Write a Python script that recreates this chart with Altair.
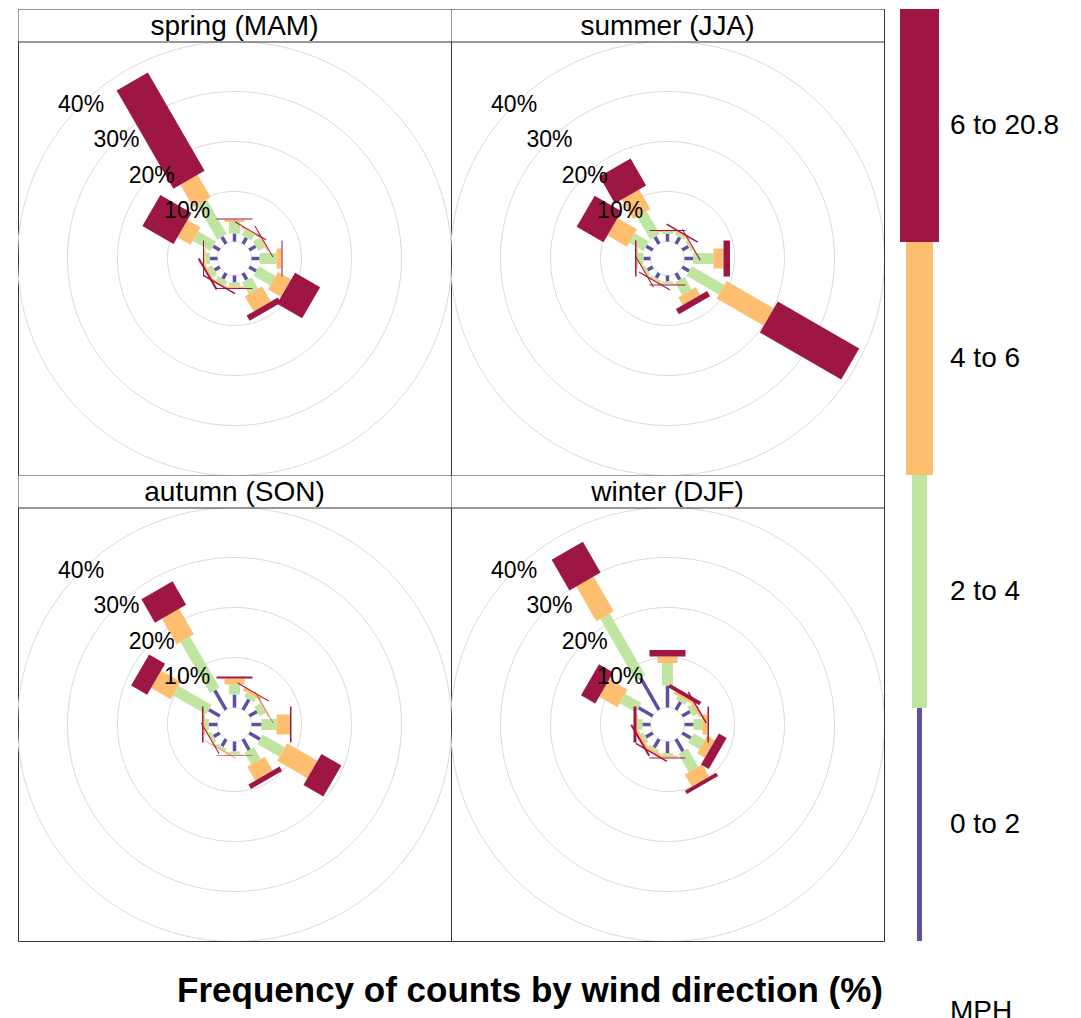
import altair as alt
import numpy as np
import pandas as pd

# ---------------- data ----------------
DIRECTIONS = [0, 30, 60, 90, 120, 150, 180, 210, 240, 270, 300, 330]
SPEED_BINS = ["0 to 2", "2 to 4", "4 to 6", "6 to 20.8"]
SEASONS = ["spring (MAM)", "summer (JJA)", "autumn (SON)", "winter (DJF)"]
GRID_PCT = [10, 20, 30, 40]
GRID_LABELS = ["10%", "20%", "30%", "40%"]
TITLE = "Frequency of counts by wind direction (%)"
KEY_FOOTER = "MPH"

# frequency (%) of each speed interval, by direction (0, 30, ..., 330)
spring_0to2 = [1.6, 1.4, 1.5, 1.6, 1.6, 1.5, 1.4, 1.3, 1.2, 1.5, 1.5, 1.6]
spring_2to4 = [2.3, 1.2, 1.5, 3.4, 3.9, 2.7, 0.8, 0.9, 1.1, 0.9, 4.1, 8.0]
spring_4to6 = [0.5, 0.3, 0.3, 1.0, 3.0, 3.5, 0.3, 0.3, 0.3, 0.3, 3.0, 5.2]
spring_6up = [0.2, 0.2, 0.2, 0.2, 5.8, 1.2, 0.2, 0.3, 0.4, 0.2, 7.2, 22.7]

summer_0to2 = [1.5, 1.5, 1.4, 1.7, 1.6, 1.5, 1.2, 1.1, 1.2, 1.4, 1.5, 1.6]
summer_2to4 = [0.4, 0.5, 0.4, 4.1, 7.5, 2.9, 0.4, 0.4, 0.4, 1.1, 3.3, 5.3]
summer_4to6 = [0.2, 0.3, 0.2, 2.0, 10.9, 1.8, 0.2, 0.2, 0.2, 0.3, 4.5, 4.5]
summer_6up = [0.2, 0.3, 0.2, 1.3, 18.8, 1.2, 0.2, 0.2, 0.2, 0.3, 6.2, 6.2]

autumn_0to2 = [2.6, 2.4, 1.8, 2.0, 2.5, 2.5, 2.0, 1.6, 1.4, 1.7, 2.5, 4.5]
autumn_2to4 = [2.0, 1.0, 1.4, 3.0, 5.1, 2.7, 0.6, 0.5, 0.5, 0.8, 7.7, 11.8]
autumn_4to6 = [1.2, 0.6, 0.2, 2.7, 7.0, 3.2, 0.2, 0.2, 0.2, 0.3, 4.5, 5.9]
autumn_6up = [0.4, 0.2, 0.1, 0.3, 4.6, 1.0, 0.1, 0.1, 0.2, 0.3, 3.7, 5.4]

winter_0to2 = [4.4, 1.8, 1.8, 1.8, 2.0, 2.8, 2.3, 1.9, 1.6, 1.6, 3.3, 7.4]
winter_2to4 = [4.5, 0.8, 1.0, 1.8, 2.6, 4.2, 0.5, 0.5, 0.6, 0.9, 3.7, 14.2]
winter_4to6 = [1.3, 0.5, 0.5, 1.0, 1.8, 2.8, 0.4, 0.5, 0.5, 0.3, 4.2, 8.0]
winter_6up = [1.3, 0.8, 0.3, 0.3, 1.8, 0.8, 0.2, 0.3, 0.4, 0.6, 3.3, 7.1]

# ---------------- styling ----------------
FONT = "Liberation Sans"
COLORS = ["#5E4FA2", "#BFE5A0", "#FDBE6F", "#9E1642"]
PADDLE_PX = [3.5, 11, 20, 36]      # paddle widths in the roses
KEY_PX = [5, 15, 27, 39]           # paddle widths in the key
HOLE = 3.4                         # centre offset, in % units
HALF = 43.3                        # half extent of each panel, in % units
PANEL = 433
HEADER = 33
PX_PER_UNIT = PANEL / (2 * HALF)
KEY_W = 55
KEY_CX = 35.5

# ---------------- tables ----------------
season_bins = {
    SEASONS[0]: [spring_0to2, spring_2to4, spring_4to6, spring_6up],
    SEASONS[1]: [summer_0to2, summer_2to4, summer_4to6, summer_6up],
    SEASONS[2]: [autumn_0to2, autumn_2to4, autumn_4to6, autumn_6up],
    SEASONS[3]: [winter_0to2, winter_2to4, winter_4to6, winter_6up],
}
rows = []
for season, arrays in season_bins.items():
    for k, wd in enumerate(DIRECTIONS):
        cum = 0.0
        for b, name in enumerate(SPEED_BINS):
            f = arrays[b][k]
            rows.append(dict(season=season, wd=wd, bin=name, c0=cum, c1=cum + f))
            cum += f
bars = pd.DataFrame(rows)
rad = np.deg2rad(bars["wd"])
bars["x0"] = (HOLE + bars["c0"]) * np.sin(rad)
bars["y0"] = (HOLE + bars["c0"]) * np.cos(rad)
bars["x1"] = (HOLE + bars["c1"]) * np.sin(rad)
bars["y1"] = (HOLE + bars["c1"]) * np.cos(rad)

circ_rows = []
for g in [0] + GRID_PCT:
    for k, t in enumerate(np.arange(0, 361, 2)):
        circ_rows.append(dict(ring=g, k=k, x=(HOLE + g) * np.sin(np.deg2rad(t)),
                              y=(HOLE + g) * np.cos(np.deg2rad(t))))
circles = pd.DataFrame(circ_rows)

lab = pd.DataFrame({"pct": GRID_PCT, "label": GRID_LABELS})
lab["x"] = (HOLE + lab["pct"]) * np.sin(np.deg2rad(315))
lab["y"] = (HOLE + lab["pct"]) * np.cos(np.deg2rad(315))

XS = alt.Scale(domain=[-HALF, HALF], nice=False, zero=False)
YS = alt.Scale(domain=[-HALF, HALF + HEADER / PX_PER_UNIT], nice=False, zero=False)


def panel(season, extra=None):
    ring = alt.Chart(circles).mark_line(color="#D9D9D9", strokeWidth=1, clip=True).encode(
        x=alt.X("x:Q", scale=XS, axis=None),
        y=alt.Y("y:Q", scale=YS, axis=None),
        detail="ring:N",
        order="k:Q",
    )
    sd = bars[bars["season"] == season]
    layers = [ring]
    for name, col, w in zip(SPEED_BINS, COLORS, PADDLE_PX):
        layers.append(
            alt.Chart(sd[sd["bin"] == name]).mark_rule(strokeCap="butt", color=col, strokeWidth=w).encode(
                x=alt.X("x0:Q", scale=XS, axis=None),
                y=alt.Y("y0:Q", scale=YS, axis=None),
                x2="x1:Q",
                y2="y1:Q",
            )
        )
    layers.append(alt.Chart(lab).mark_text(fontSize=23, font=FONT, color="black").encode(
        x=alt.X("x:Q", scale=XS, axis=None),
        y=alt.Y("y:Q", scale=YS, axis=None),
        text="label:N",
    ))
    strip = pd.DataFrame({"t": [season]})
    layers.append(alt.Chart(strip).mark_rect(color="white").encode(
        x=alt.value(0.5), x2=alt.value(PANEL - 0.5), y=alt.value(0.5), y2=alt.value(HEADER)))
    layers.append(alt.Chart(strip).mark_rule(color="#333333", strokeWidth=1).encode(
        y=alt.value(HEADER)))
    layers.append(alt.Chart(strip).mark_text(fontSize=28, font=FONT, color="black").encode(
        text="t:N", x=alt.value(PANEL / 2), y=alt.value(HEADER / 2 + 1)))
    if extra is not None:
        layers.append(extra)
    return alt.layer(*layers).properties(width=PANEL, height=PANEL + HEADER)


title_mark = alt.Chart(pd.DataFrame({"t": [TITLE]})).mark_text(
    fontSize=35, fontWeight="bold", font=FONT, color="black", baseline="middle"
).encode(text="t:N", x=alt.value(512), y=alt.value(PANEL + HEADER + 50))

key_df = pd.DataFrame({"key_bin": SPEED_BINS, "lo": [0.0, 1.0, 2.0, 3.0]})
key_df["hi"] = key_df["lo"] + 1
key_df["mid"] = key_df["lo"] + 0.5


def key_half(lo_bins, domain, extra=None):
    d = key_df[key_df["key_bin"].isin(lo_bins)]
    ky = alt.Scale(domain=domain, nice=False, zero=False)
    layers = []
    for name, col, w in zip(SPEED_BINS, COLORS, KEY_PX):
        if name not in lo_bins:
            continue
        layers.append(
            alt.Chart(d[d["key_bin"] == name]).mark_rect(color=col).encode(
                x=alt.value(KEY_CX - w / 2), x2=alt.value(KEY_CX + w / 2),
                y=alt.Y("lo:Q", scale=ky, axis=None), y2="hi:Q",
            )
        )
    layers.append(alt.Chart(d).mark_text(fontSize=28, font=FONT, align="left", color="black").encode(
        x=alt.value(66), y=alt.Y("mid:Q", scale=ky, axis=None), text="key_bin:N"))
    if extra is not None:
        layers.append(extra)
    return alt.layer(*layers).properties(
        width=KEY_W, height=PANEL + HEADER, view=alt.ViewBackground(stroke=None))


footer_mark = alt.Chart(pd.DataFrame({"t": [KEY_FOOTER]})).mark_text(
    fontSize=28, font=FONT, color="black", baseline="top", align="center"
).encode(text="t:N", x=alt.value(97), y=alt.value(PANEL + HEADER + 57))

chart = alt.concat(
    panel(SEASONS[0]),
    panel(SEASONS[1]),
    key_half(SPEED_BINS[2:], [2, 4]),
    panel(SEASONS[2], extra=title_mark),
    panel(SEASONS[3]),
    key_half(SPEED_BINS[:2], [0, 2], extra=footer_mark),
    columns=3,
    spacing=0,
    bounds="flush",
).properties(
    padding={"left": 9, "top": 0, "right": 5, "bottom": 5},
    background="white",
).configure_view(stroke="#333333", strokeWidth=1)

chart.save("out.html", embed_options={"renderer": "svg", "actions": False})
